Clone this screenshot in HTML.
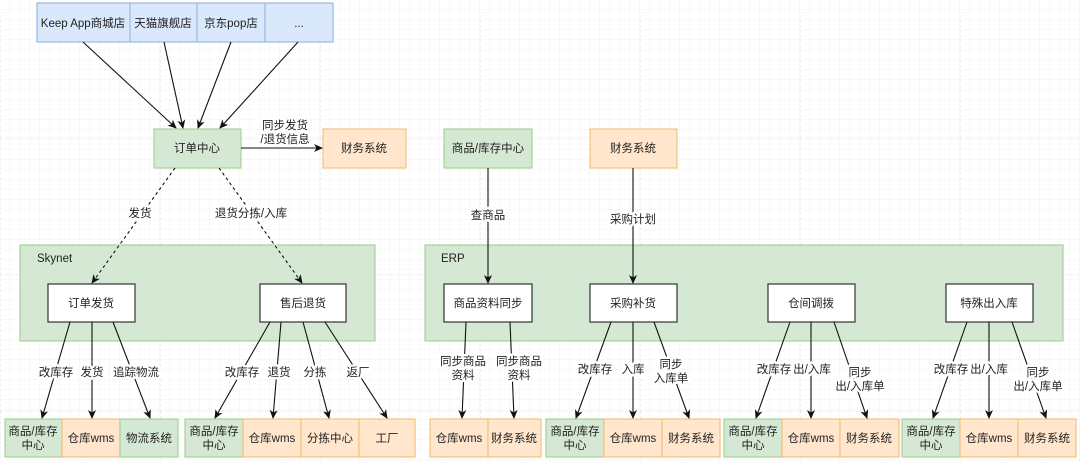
<!DOCTYPE html>
<html><head><meta charset="utf-8"><style>
html,body{margin:0;padding:0;background:#fff}
svg text{font-family:"Liberation Sans","Noto Sans CJK SC",sans-serif;font-size:11.5px;fill:#222}
.l text{stroke:#fff;stroke-width:5px;paint-order:stroke;stroke-linejoin:round}
</style></head><body>
<svg width="1080" height="462" viewBox="0 0 1080 462" xmlns="http://www.w3.org/2000/svg">
<defs>
<pattern id="g" width="10" height="10" patternUnits="userSpaceOnUse"><path d="M10 0V10H0" fill="none" stroke="#f1f1f1" stroke-width="1"/></pattern>
<pattern id="G" width="160" height="137" patternUnits="userSpaceOnUse" x="0" y="0"><path d="M0 0H160M0 0V137" fill="none" stroke="#e2e2e2" stroke-width="1" stroke-dasharray="3 2"/></pattern>
<marker id="a" markerWidth="10" markerHeight="10" refX="8" refY="4" orient="auto" markerUnits="userSpaceOnUse"><path d="M0 0L9 4L0 8L2.5 4Z" fill="#111"/></marker>
</defs>
<rect width="1080" height="462" fill="url(#g)"/>
<rect width="1080" height="462" fill="url(#G)" y="12"/>
<g stroke-width="1.2">
<rect x="37" y="3" width="296" height="39" fill="#dae8fc" stroke="#9db8e6"/>
<path d="M130 3V42M197 3V42M265 3V42" stroke="#9db8e6"/>
<rect x="154" y="129" width="87" height="39" fill="#d5e8d4" stroke="#a9d39a"/>
<rect x="323" y="129" width="83" height="39" fill="#ffe6cc" stroke="#f5c27f"/>
<rect x="444" y="129" width="88" height="39" fill="#d5e8d4" stroke="#a9d39a"/>
<rect x="590" y="129" width="87" height="39" fill="#ffe6cc" stroke="#f5c27f"/>
<rect x="20" y="245" width="355" height="96" fill="#d5e8d4" stroke="#a9d39a"/>
<rect x="425" y="245" width="638" height="96" fill="#d5e8d4" stroke="#a9d39a"/>
</g>
<g fill="#fff" stroke="#333" stroke-width="1.2">
<rect x="48" y="284" width="87" height="38"/><rect x="260" y="284" width="86" height="38"/>
<rect x="444" y="284" width="88" height="38"/><rect x="590" y="284" width="87" height="38"/>
<rect x="768" y="284" width="87" height="38"/><rect x="946" y="284" width="87" height="38"/>
</g>
<g stroke-width="1.2">
<rect x="5" y="419" width="57" height="38" fill="#d5e8d4" stroke="#a9d39a"/>
<rect x="62" y="419" width="58" height="38" fill="#ffe6cc" stroke="#f5c27f"/>
<rect x="120" y="419" width="58" height="38" fill="#d5e8d4" stroke="#a9d39a"/>
<rect x="185" y="419" width="58" height="38" fill="#d5e8d4" stroke="#a9d39a"/>
<rect x="243" y="419" width="58" height="38" fill="#ffe6cc" stroke="#f5c27f"/>
<rect x="301" y="419" width="58" height="38" fill="#ffe6cc" stroke="#f5c27f"/>
<rect x="359" y="419" width="56" height="38" fill="#ffe6cc" stroke="#f5c27f"/>
<rect x="430" y="419" width="58" height="38" fill="#ffe6cc" stroke="#f5c27f"/>
<rect x="488" y="419" width="53" height="38" fill="#ffe6cc" stroke="#f5c27f"/>
<rect x="546" y="419" width="58" height="38" fill="#d5e8d4" stroke="#a9d39a"/>
<rect x="604" y="419" width="58" height="38" fill="#ffe6cc" stroke="#f5c27f"/>
<rect x="662" y="419" width="58" height="38" fill="#ffe6cc" stroke="#f5c27f"/>
<rect x="724" y="419" width="58" height="38" fill="#d5e8d4" stroke="#a9d39a"/>
<rect x="782" y="419" width="58" height="38" fill="#ffe6cc" stroke="#f5c27f"/>
<rect x="840" y="419" width="59" height="38" fill="#ffe6cc" stroke="#f5c27f"/>
<rect x="902" y="419" width="58" height="38" fill="#d5e8d4" stroke="#a9d39a"/>
<rect x="960" y="419" width="58" height="38" fill="#ffe6cc" stroke="#f5c27f"/>
<rect x="1018" y="419" width="58" height="38" fill="#ffe6cc" stroke="#f5c27f"/>
</g>
<g stroke="#111" stroke-width="1.1" fill="none" marker-end="url(#a)">
<path d="M83 42L176 128"/><path d="M164 42L183 128"/><path d="M231 42L198 128"/><path d="M298 42L220 128"/>
<path d="M241 148L322 148"/>
<path d="M175 168L92 283" stroke-dasharray="3 3"/><path d="M219 168L302 283" stroke-dasharray="3 3"/>
<path d="M488 168V283"/><path d="M633 168V283"/>
<path d="M70 322L42 418"/><path d="M92 322V418"/><path d="M113 322L150 418"/>
<path d="M270 322L215 418"/><path d="M281 322L273 418"/><path d="M303 322L329 418"/><path d="M325 322L387 418"/>
<path d="M466 322L462 418"/><path d="M510 322L514 418"/>
<path d="M611 322L576 418"/><path d="M633 322V418"/><path d="M654 322L689 418"/>
<path d="M790 322L756 418"/><path d="M811 322V418"/><path d="M834 322L867 418"/>
<path d="M967 322L933 418"/><path d="M989 322V418"/><path d="M1012 322L1046 418"/>
</g>
<g text-anchor="middle">
<text x="83" y="27">Keep App商城店</text><text x="163" y="27">天猫旗舰店</text><text x="231" y="27">京东pop店</text><text x="299" y="27">...</text>
<text x="197" y="152">订单中心</text><text x="364" y="152">财务系统</text>
<text x="488" y="152">商品/库存中心</text><text x="633" y="152">财务系统</text>
<text x="91" y="307">订单发货</text><text x="303" y="307">售后退货</text>
<text x="488" y="307">商品资料同步</text><text x="633" y="307">采购补货</text>
<text x="811" y="307">仓间调拨</text><text x="989" y="307">特殊出入库</text>
</g>
<text x="37" y="262">Skynet</text><text x="441" y="262">ERP</text>
<g text-anchor="middle" class="l">
<text x="285" y="129">同步发货</text><text x="285" y="143">/退货信息</text>
<text x="140" y="217">发货</text><text x="251" y="217">退货分拣/入库</text>
<text x="488" y="219">查商品</text><text x="633" y="223">采购计划</text>
<text x="56" y="376">改库存</text><text x="92" y="376">发货</text><text x="136" y="376">追踪物流</text>
<text x="242" y="376">改库存</text><text x="279" y="376">退货</text><text x="315" y="376">分拣</text><text x="358" y="376">返厂</text>
<text x="463" y="365">同步商品</text><text x="463" y="379">资料</text>
<text x="519" y="365">同步商品</text><text x="519" y="379">资料</text>
<text x="595" y="373">改库存</text><text x="633" y="373">入库</text>
<text x="671" y="368">同步</text><text x="671" y="382">入库单</text>
<text x="774" y="373">改库存</text><text x="812" y="373">出/入库</text>
<text x="860" y="376">同步</text><text x="860" y="390">出/入库单</text>
<text x="951" y="373">改库存</text><text x="989" y="373">出/入库</text>
<text x="1038" y="376">同步</text><text x="1038" y="390">出/入库单</text>
</g>
<g text-anchor="middle">
<text x="33" y="435">商品/库存</text><text x="33" y="449">中心</text>
<text x="91" y="442">仓库wms</text><text x="149" y="442">物流系统</text>
<text x="214" y="435">商品/库存</text><text x="214" y="449">中心</text>
<text x="272" y="442">仓库wms</text><text x="330" y="442">分拣中心</text><text x="387" y="442">工厂</text>
<text x="459" y="442">仓库wms</text><text x="514" y="442">财务系统</text>
<text x="575" y="435">商品/库存</text><text x="575" y="449">中心</text>
<text x="633" y="442">仓库wms</text><text x="691" y="442">财务系统</text>
<text x="753" y="435">商品/库存</text><text x="753" y="449">中心</text>
<text x="811" y="442">仓库wms</text><text x="869" y="442">财务系统</text>
<text x="931" y="435">商品/库存</text><text x="931" y="449">中心</text>
<text x="989" y="442">仓库wms</text><text x="1047" y="442">财务系统</text>
</g>
</svg>
</body></html>
